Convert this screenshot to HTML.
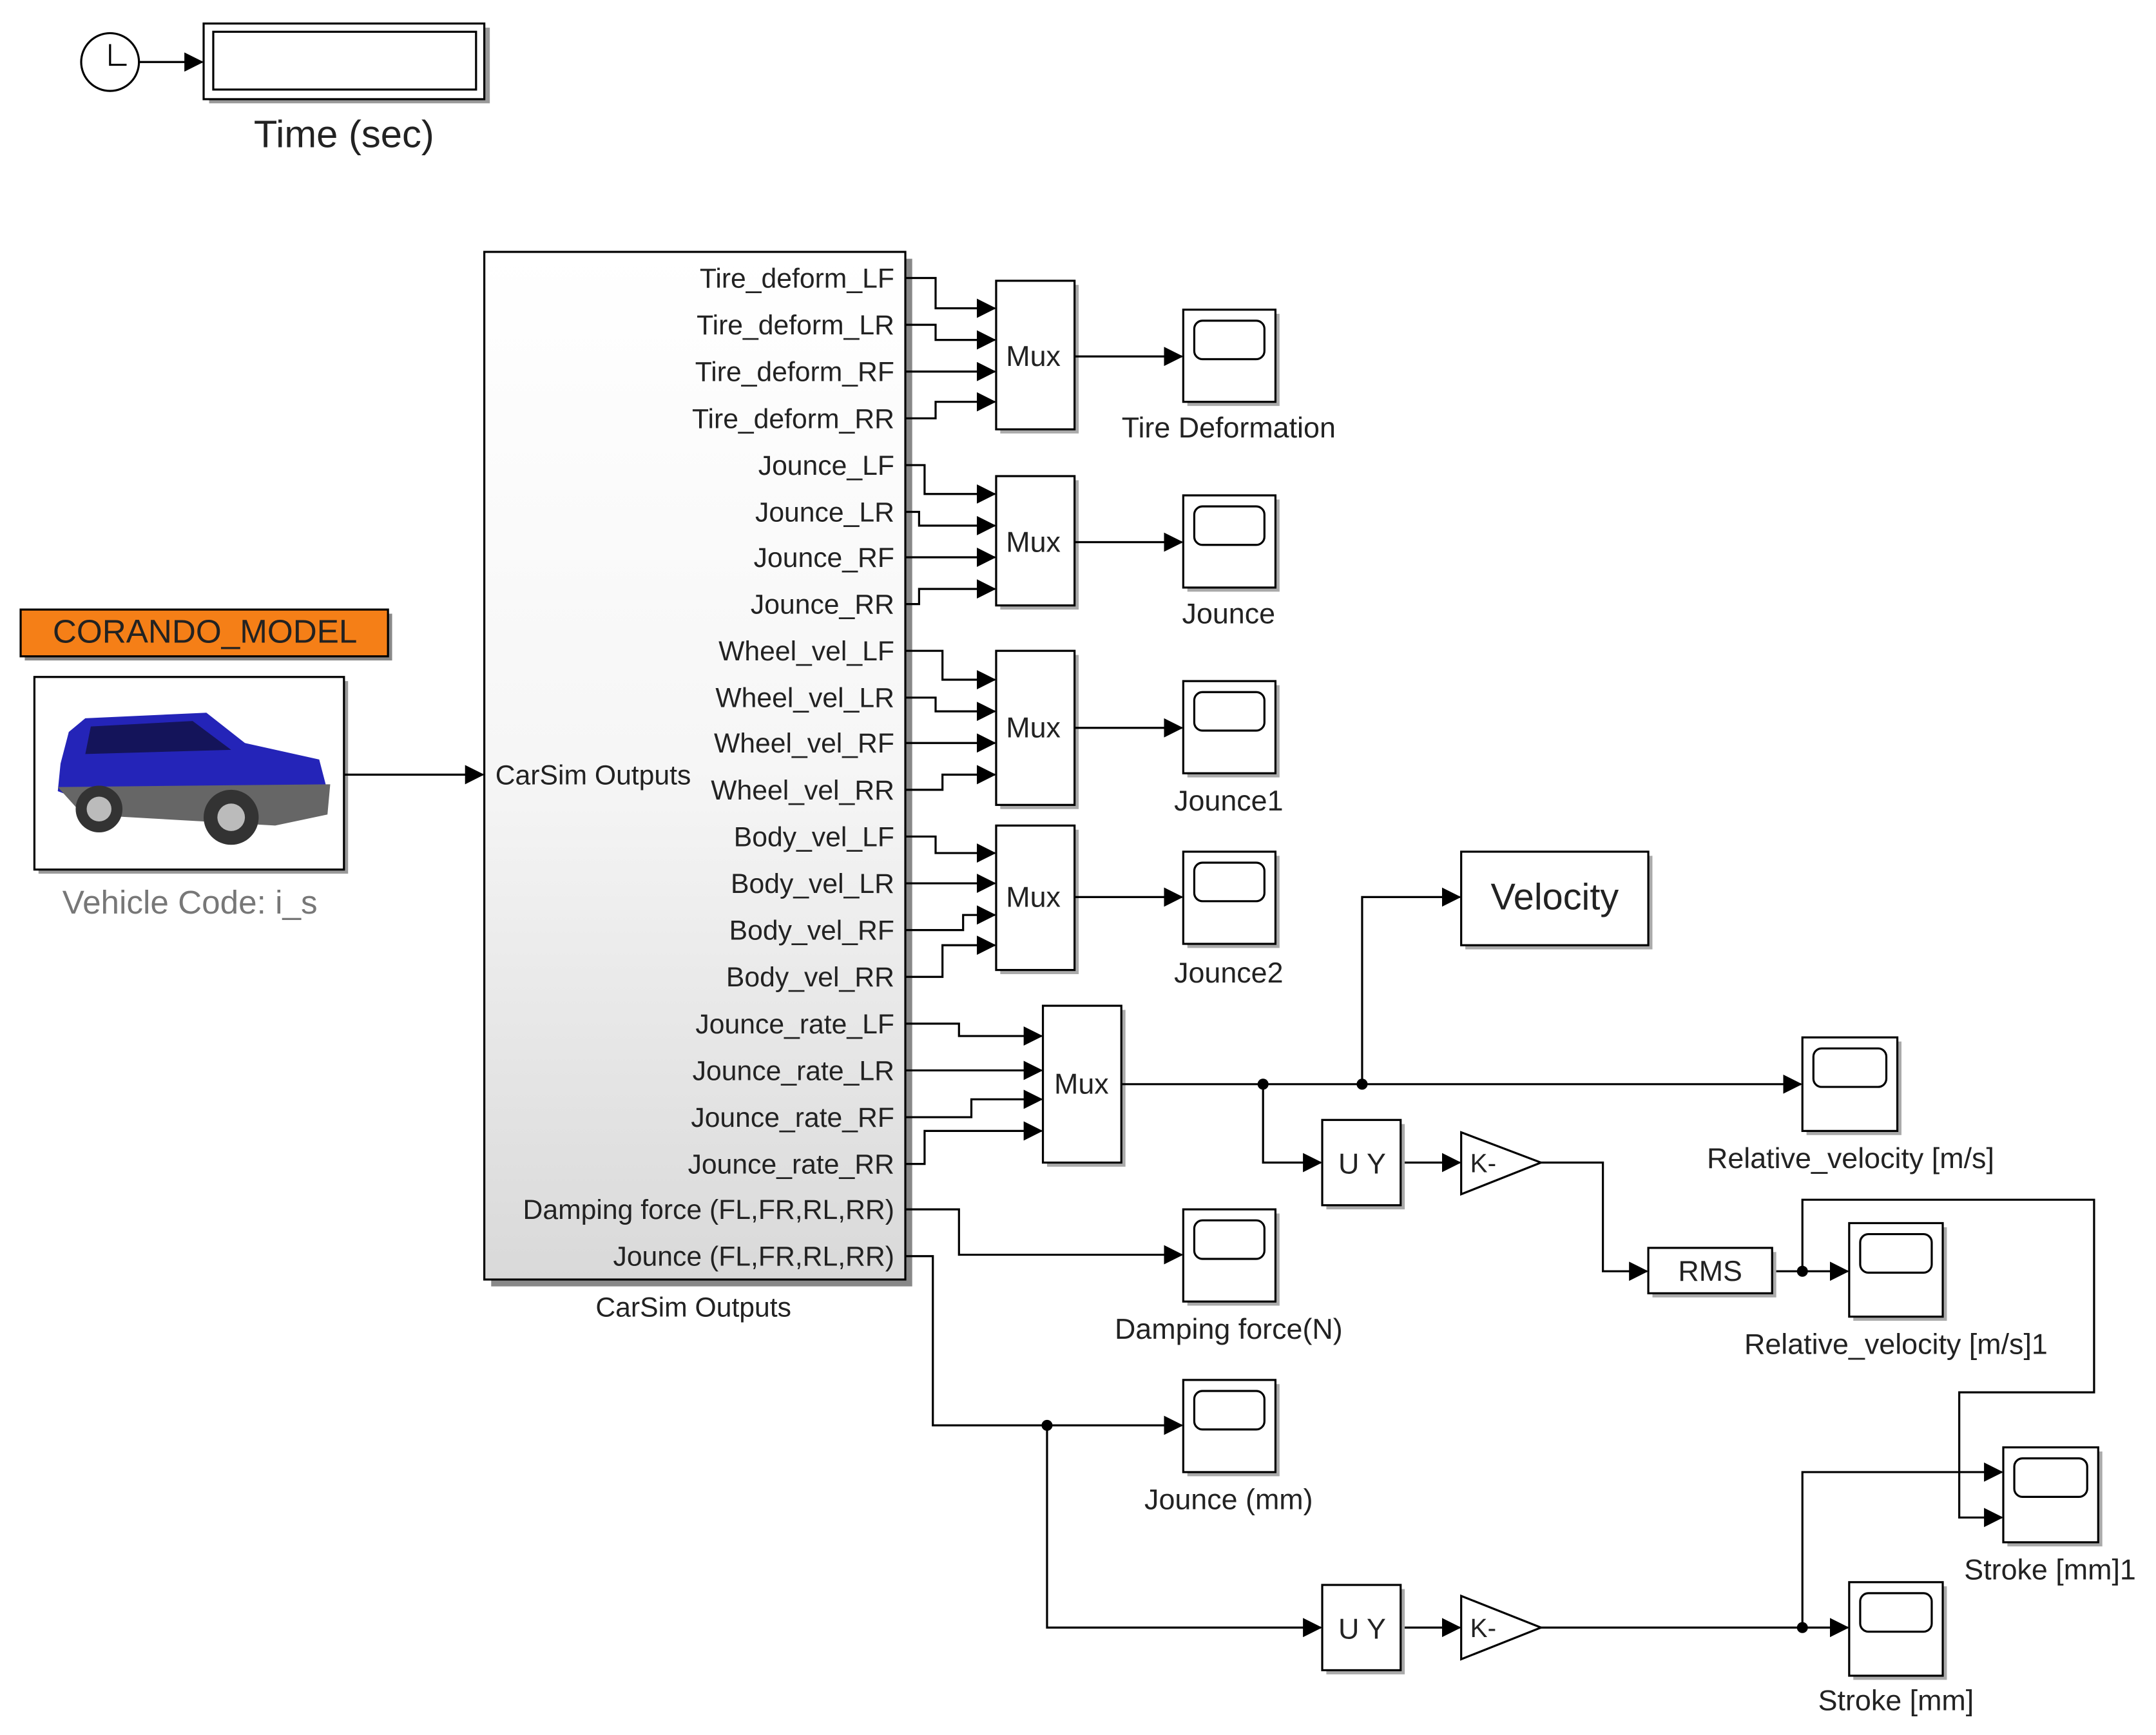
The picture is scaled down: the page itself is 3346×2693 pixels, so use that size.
<!DOCTYPE html>
<html><head><meta charset="utf-8"><style>
html,body{margin:0;padding:0;background:#fff;}
svg{display:block;}
text{font-family:"Liberation Sans",Arial,sans-serif;fill:#222;}
</style></head><body>
<svg width="3346" height="2693" viewBox="0 0 1567 1261" xmlns="http://www.w3.org/2000/svg">
<defs>
<linearGradient id="g" x1="0" y1="0" x2="0" y2="1"><stop offset="0" stop-color="#fff"/><stop offset="0.5" stop-color="#f6f6f6"/><stop offset="1" stop-color="#d9d9d9"/></linearGradient>
<marker id="a" markerWidth="14" markerHeight="14" refX="13" refY="7" orient="auto" markerUnits="userSpaceOnUse"><path d="M0,0 L14,7 L0,14 z" fill="#000"/></marker>
</defs>
<g stroke="#000" stroke-width="1.5" fill="none">
<circle cx="80" cy="45" r="21" fill="#fff"/>
<path d="M80,32 V47 H92"/>
<path d="M101,45 H147" marker-end="url(#a)"/>
<rect x="152" y="20" width="204" height="55" fill="#999" stroke="none"/>
<rect x="148" y="17" width="204" height="55" fill="#fff"/>
<rect x="155" y="23" width="191" height="42"/>
<rect x="357" y="188" width="306" height="747" fill="#888" stroke="none"/>
<rect x="352" y="183" width="306" height="747" fill="url(#g)"/>
<rect x="18" y="446" width="267" height="34" fill="#888" stroke="none"/>
<rect x="15" y="443" width="267" height="34" fill="#f57f17"/>
<rect x="28" y="495" width="225" height="140" fill="#999" stroke="none"/>
<rect x="25" y="492" width="225" height="140" fill="#fff"/>
<path d="M250,563 H351" marker-end="url(#a)"/>
</g>
<g>
<path d="M44,555 L50,532 L62,522 L150,518 L178,540 L232,552 L238,575 L60,582 L42,575 Z" fill="#2424b8"/>
<path d="M66,528 L140,524 L168,545 L62,548 Z" fill="#14145a"/>
<path d="M42,572 L240,570 L238,592 L200,600 L60,592 Z" fill="#666"/>
<circle cx="72" cy="588" r="17" fill="#333"/><circle cx="72" cy="588" r="9" fill="#bbb"/>
<circle cx="168" cy="594" r="20" fill="#333"/><circle cx="168" cy="594" r="10" fill="#bbb"/>
</g>
<g font-size="20">
<text x="149" y="467" text-anchor="middle" font-size="24" fill="#222">CORANDO_MODEL</text>
<text x="138" y="664" text-anchor="middle" font-size="24" style="fill:#777">Vehicle Code: i_s</text>
<text x="250" y="107" text-anchor="middle" font-size="28">Time (sec)</text>
<text x="360" y="570">CarSim Outputs</text>
<text x="504" y="957" text-anchor="middle">CarSim Outputs</text>
<g text-anchor="end">
<text x="650" y="209">Tire_deform_LF</text>
<text x="650" y="243">Tire_deform_LR</text>
<text x="650" y="277">Tire_deform_RF</text>
<text x="650" y="311">Tire_deform_RR</text>
<text x="650" y="345">Jounce_LF</text>
<text x="650" y="379">Jounce_LR</text>
<text x="650" y="412">Jounce_RF</text>
<text x="650" y="446">Jounce_RR</text>
<text x="650" y="480">Wheel_vel_LF</text>
<text x="650" y="514">Wheel_vel_LR</text>
<text x="650" y="547">Wheel_vel_RF</text>
<text x="650" y="581">Wheel_vel_RR</text>
<text x="650" y="615">Body_vel_LF</text>
<text x="650" y="649">Body_vel_LR</text>
<text x="650" y="683">Body_vel_RF</text>
<text x="650" y="717">Body_vel_RR</text>
<text x="650" y="751">Jounce_rate_LF</text>
<text x="650" y="785">Jounce_rate_LR</text>
<text x="650" y="819">Jounce_rate_RF</text>
<text x="650" y="853">Jounce_rate_RR</text>
<text x="650" y="886">Damping force (FL,FR,RL,RR)</text>
<text x="650" y="920">Jounce (FL,FR,RL,RR)</text>
</g>
</g>
<g stroke="#000" stroke-width="1.5" fill="none">
<path d="M658,202 H680 V224 H723" marker-end="url(#a)"/>
<path d="M658,236 H680 V247 H723" marker-end="url(#a)"/>
<path d="M658,270 H723" marker-end="url(#a)"/>
<path d="M658,304 H680 V292 H723" marker-end="url(#a)"/>
<path d="M658,338 H672 V359 H723" marker-end="url(#a)"/>
<path d="M658,372 H668 V382 H723" marker-end="url(#a)"/>
<path d="M658,405 H723" marker-end="url(#a)"/>
<path d="M658,439 H668 V428 H723" marker-end="url(#a)"/>
<path d="M658,473 H685 V494 H723" marker-end="url(#a)"/>
<path d="M658,507 H680 V517 H723" marker-end="url(#a)"/>
<path d="M658,540 H723" marker-end="url(#a)"/>
<path d="M658,574 H685 V563 H723" marker-end="url(#a)"/>
<path d="M658,608 H680 V620 H723" marker-end="url(#a)"/>
<path d="M658,642 H723" marker-end="url(#a)"/>
<path d="M658,676 H700 V665 H723" marker-end="url(#a)"/>
<path d="M658,710 H685 V687 H723" marker-end="url(#a)"/>
<path d="M658,744 H697 V753 H757" marker-end="url(#a)"/>
<path d="M658,778 H757" marker-end="url(#a)"/>
<path d="M658,812 H706 V799 H757" marker-end="url(#a)"/>
<path d="M658,846 H672 V822 H757" marker-end="url(#a)"/>
<rect x="727" y="207" width="57" height="108" fill="#aaa" stroke="none"/><rect x="724" y="204" width="57" height="108" fill="#fff"/>
<rect x="727" y="349" width="57" height="94" fill="#aaa" stroke="none"/><rect x="724" y="346" width="57" height="94" fill="#fff"/>
<rect x="727" y="476" width="57" height="112" fill="#aaa" stroke="none"/><rect x="724" y="473" width="57" height="112" fill="#fff"/>
<rect x="727" y="603" width="57" height="105" fill="#aaa" stroke="none"/><rect x="724" y="600" width="57" height="105" fill="#fff"/>
<rect x="761" y="734" width="57" height="114" fill="#aaa" stroke="none"/><rect x="758" y="731" width="57" height="114" fill="#fff"/>
<path d="M781,259 H859" marker-end="url(#a)"/>
<path d="M781,394 H859" marker-end="url(#a)"/>
<path d="M781,529 H859" marker-end="url(#a)"/>
<path d="M781,652 H859" marker-end="url(#a)"/>
<path d="M815,788 H1309" marker-end="url(#a)"/>
<path d="M990,788 V652 H1061" marker-end="url(#a)"/>
<path d="M918,788 V845 H960" marker-end="url(#a)"/>
<path d="M1018,845 H1061" marker-end="url(#a)"/>
<path d="M1120,845 H1165 V924 H1197" marker-end="url(#a)"/>
<path d="M1288,924 H1343" marker-end="url(#a)"/>
<path d="M1310,924 V872 H1522 V1012 H1424 V1103 H1455" marker-end="url(#a)"/>
<path d="M658,879 H697 V912 H859" marker-end="url(#a)"/>
<path d="M658,913 H678 V1036 H859" marker-end="url(#a)"/>
<path d="M761,1036 V1183 H960" marker-end="url(#a)"/>
<path d="M1018,1183 H1061" marker-end="url(#a)"/>
<path d="M1120,1183 H1343" marker-end="url(#a)"/>
<path d="M1310,1183 V1070 H1455" marker-end="url(#a)"/>
<rect x="1065" y="622" width="136" height="68" fill="#aaa" stroke="none"/><rect x="1062" y="619" width="136" height="68" fill="#fff"/>
<rect x="964" y="817" width="57" height="62" fill="#aaa" stroke="none"/><rect x="961" y="814" width="57" height="62" fill="#fff"/>
<rect x="964" y="1155" width="57" height="62" fill="#aaa" stroke="none"/><rect x="961" y="1152" width="57" height="62" fill="#fff"/>
<path d="M1062,823 L1120,845 L1062,868 Z" fill="#fff"/>
<path d="M1062,1160 L1120,1183 L1062,1206 Z" fill="#fff"/>
<rect x="1201" y="910" width="90" height="33" fill="#aaa" stroke="none"/><rect x="1198" y="907" width="90" height="33" fill="#fff"/>
</g>
<g fill="#000">
<circle cx="918" cy="788" r="4"/><circle cx="990" cy="788" r="4"/>
<circle cx="1310" cy="924" r="4"/><circle cx="761" cy="1036" r="4"/><circle cx="1310" cy="1183" r="4"/>
</g>
<g stroke="#000" stroke-width="1.5">
<rect x="863" y="228" width="67" height="67" fill="#aaa" stroke="none"/><rect x="860" y="225" width="67" height="67" fill="#fff"/><rect x="868" y="233" width="51" height="28" rx="6" fill="#fff"/>
<rect x="863" y="363" width="67" height="67" fill="#aaa" stroke="none"/><rect x="860" y="360" width="67" height="67" fill="#fff"/><rect x="868" y="368" width="51" height="28" rx="6" fill="#fff"/>
<rect x="863" y="498" width="67" height="67" fill="#aaa" stroke="none"/><rect x="860" y="495" width="67" height="67" fill="#fff"/><rect x="868" y="503" width="51" height="28" rx="6" fill="#fff"/>
<rect x="863" y="622" width="67" height="67" fill="#aaa" stroke="none"/><rect x="860" y="619" width="67" height="67" fill="#fff"/><rect x="868" y="627" width="51" height="28" rx="6" fill="#fff"/>
<rect x="863" y="882" width="67" height="67" fill="#aaa" stroke="none"/><rect x="860" y="879" width="67" height="67" fill="#fff"/><rect x="868" y="887" width="51" height="28" rx="6" fill="#fff"/>
<rect x="863" y="1006" width="67" height="67" fill="#aaa" stroke="none"/><rect x="860" y="1003" width="67" height="67" fill="#fff"/><rect x="868" y="1011" width="51" height="28" rx="6" fill="#fff"/>
<rect x="1313" y="757" width="69" height="68" fill="#aaa" stroke="none"/><rect x="1310" y="754" width="69" height="68" fill="#fff"/><rect x="1318" y="762" width="53" height="28" rx="6" fill="#fff"/>
<rect x="1347" y="892" width="68" height="68" fill="#aaa" stroke="none"/><rect x="1344" y="889" width="68" height="68" fill="#fff"/><rect x="1352" y="897" width="52" height="28" rx="6" fill="#fff"/>
<rect x="1459" y="1055" width="69" height="69" fill="#aaa" stroke="none"/><rect x="1456" y="1052" width="69" height="69" fill="#fff"/><rect x="1464" y="1060" width="53" height="28" rx="6" fill="#fff"/>
<rect x="1347" y="1153" width="68" height="68" fill="#aaa" stroke="none"/><rect x="1344" y="1150" width="68" height="68" fill="#fff"/><rect x="1352" y="1158" width="52" height="28" rx="6" fill="#fff"/>
</g>
<g font-size="21" text-anchor="middle">
<text x="751" y="266">Mux</text>
<text x="751" y="401">Mux</text>
<text x="751" y="536">Mux</text>
<text x="751" y="659">Mux</text>
<text x="786" y="795">Mux</text>
<text x="1130" y="661" font-size="27">Velocity</text>
<text x="990" y="853">U  Y</text>
<text x="990" y="1191">U  Y</text>
<text x="1078" y="852" font-size="19">K-</text>
<text x="1078" y="1190" font-size="19">K-</text>
<text x="1243" y="931">RMS</text>
<text x="893" y="318">Tire Deformation</text>
<text x="893" y="453">Jounce</text>
<text x="893" y="589">Jounce1</text>
<text x="893" y="714">Jounce2</text>
<text x="893" y="973">Damping force(N)</text>
<text x="893" y="1097">Jounce (mm)</text>
<text x="1345" y="849">Relative_velocity [m/s]</text>
<text x="1378" y="984">Relative_velocity [m/s]1</text>
<text x="1490" y="1148">Stroke [mm]1</text>
<text x="1378" y="1243">Stroke [mm]</text>
</g>
</svg>
</body></html>
